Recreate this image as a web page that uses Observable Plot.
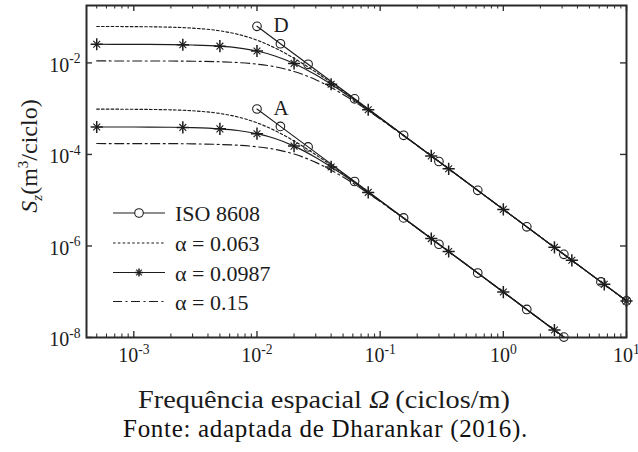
<!DOCTYPE html>
<html><head><meta charset="utf-8">
<script src="https://cdn.jsdelivr.net/npm/d3@7"></script>
<script src="https://cdn.jsdelivr.net/npm/@observablehq/plot@0.6"></script>
<style>
html,body{margin:0;padding:0;background:#fff;}
body{width:638px;font-family:"Liberation Serif","Times New Roman",serif;}
#caption{font-size:25px;letter-spacing:0.7px;line-height:26px;height:26px;text-align:center;padding-left:13px;color:#111;white-space:nowrap;}
</style></head><body>
<div id="chart"></div>
<div id="caption">Fonte: adaptada de Dharankar (2016).</div>
<script>
// ---- data ----
const omegaGrid = [0.0005, 0.001, 0.002, 0.003, 0.005, 0.007, 0.01, 0.014, 0.02, 0.03, 0.05, 0.08, 0.15, 0.3, 1, 3, 10];
// class D
const szD_a063  = [0.0625, 0.0620, 0.0603, 0.0575, 0.0502, 0.0421, 0.0314, 0.0212, 0.0126, 0.0063, 0.00242, 0.00097, 0.000279, 0.0000699, 0.0000063, 0.0000007, 0.000000063];
const szD_a0987 = [0.0255, 0.0254, 0.0251, 0.0246, 0.0232, 0.0213, 0.0182, 0.0142, 0.00974, 0.00549, 0.00229, 0.000948, 0.000277, 0.0000698, 0.0000063, 0.0000007, 0.000000063];
const szD_a015  = [0.01105, 0.0110, 0.01098, 0.01088, 0.01059, 0.01018, 0.0094, 0.00823, 0.0065, 0.00429, 0.00205, 0.000904, 0.000273, 0.0000696, 0.0000063, 0.0000007, 0.000000063];
// class A
const szA_a063  = [9.77e-4, 9.69e-4, 9.42e-4, 8.99e-4, 7.84e-4, 6.58e-4, 4.91e-4, 3.32e-4, 1.97e-4, 9.84e-5, 3.78e-5, 1.51e-5, 4.36e-6, 1.09e-6, 9.84e-8, 1.09e-8, 9.84e-10];
const szA_a0987 = [3.98e-4, 3.97e-4, 3.93e-4, 3.85e-4, 3.62e-4, 3.33e-4, 2.84e-4, 2.22e-4, 1.52e-4, 8.58e-5, 3.58e-5, 1.48e-5, 4.33e-6, 1.09e-6, 9.84e-8, 1.09e-8, 9.84e-10];
const szA_a015  = [1.73e-4, 1.72e-4, 1.72e-4, 1.70e-4, 1.65e-4, 1.59e-4, 1.47e-4, 1.29e-4, 1.02e-4, 6.70e-5, 3.21e-5, 1.41e-5, 4.27e-6, 1.09e-6, 9.84e-8, 1.09e-8, 9.84e-10];
// ISO 8608 (circles)
const isoOmegaD = [0.01, 0.0155, 0.026, 0.062, 0.155, 0.3, 0.62, 1.55, 3.1, 6.2, 10];
const isoSzD    = [0.063, 0.0262, 0.00932, 0.00164, 0.000262, 0.00007, 0.0000164, 0.00000262, 6.56e-7, 1.64e-7, 6.3e-8];
const isoOmegaA = [0.01, 0.0155, 0.026, 0.062, 0.155, 0.3, 0.62, 1.55, 3.1];
const isoSzA    = [9.84e-4, 4.10e-4, 1.46e-4, 2.56e-5, 4.10e-6, 1.09e-6, 2.56e-7, 4.10e-8, 1.02e-8];
// alpha = 0.0987 markers (stars)
const starOmegaD = [0.0005, 0.0025, 0.005, 0.01, 0.02, 0.04, 0.08, 0.26, 0.36, 1, 2.6, 3.6, 6.6, 10];
const starSzD    = [0.0255, 0.0249, 0.0232, 0.0182, 0.00974, 0.00341, 0.000948, 0.0000929, 0.0000485, 0.0000063, 9.32e-7, 4.86e-7, 1.45e-7, 6.3e-8];
const starOmegaA = [0.0005, 0.0025, 0.005, 0.01, 0.02, 0.04, 0.08, 0.26, 0.36, 1, 2.6];
const starSzA    = [3.98e-4, 3.89e-4, 3.62e-4, 2.84e-4, 1.52e-4, 5.33e-5, 1.48e-5, 1.45e-6, 7.58e-7, 9.84e-8, 1.46e-8];
// class labels
const classLabels = ["D", "A"];
// ticks
const xTickValues = [1e-3, 1e-2, 1e-1, 1, 10];
const xTickLabels = ["10^-3", "10^-2", "10^-1", "10^0", "10^1"];
const xMinorTicks = [5e-4,6e-4,7e-4,8e-4,9e-4, 2e-3,3e-3,4e-3,5e-3,6e-3,7e-3,8e-3,9e-3, 0.02,0.03,0.04,0.05,0.06,0.07,0.08,0.09, 0.2,0.3,0.4,0.5,0.6,0.7,0.8,0.9, 2,3,4,5,6,7,8,9];
const yTickValues = [1e-8, 1e-6, 1e-4, 1e-2];
const yTickLabels = ["10^-8", "10^-6", "10^-4", "10^-2"];
const legendLabels = ["ISO 8608", "α = 0.063", "α = 0.0987", "α = 0.15"];

// ---- build tables ----
const pts = (xs, ys) => xs.map((x, i) => ({x, y: ys[i]}));
const W = 638, H = 416, mL = 86, mR = 12, mT = 5, mB = 79;
const FW = W - mL - mR, FH = H - mT - mB;
const ink = "#1c1c1c";
const serif = '"Liberation Serif","Times New Roman",serif';

const lineOpts = {x: "x", y: "y", stroke: ink, strokeWidth: 1.15, curve: "monotone-x", clip: true};
const dotted = {strokeDasharray: "2.6,2.2"};
const dashdot = {strokeDasharray: "9,3.5,2,3.5"};

const isoD = pts(isoOmegaD, isoSzD), isoA = pts(isoOmegaA, isoSzA);
const starD = pts(starOmegaD, starSzD), starA = pts(starOmegaA, starSzA);
const classAnchors = [isoD[0], isoA[0]].map((p, i) => ({...p, label: classLabels[i]}));

const plot = Plot.plot({
  width: W, height: H,
  marginLeft: mL, marginRight: mR, marginTop: mT, marginBottom: mB,
  style: {fontFamily: serif, fontSize: "20px", background: "#fff", color: ink},
  x: {type: "log", domain: [4.13e-4, 10], axis: null},
  y: {type: "log", domain: [1e-8, 0.1795], axis: null},
  marks: [
    Plot.line(pts(omegaGrid, szD_a063), {...lineOpts, ...dotted}),
    Plot.line(pts(omegaGrid, szA_a063), {...lineOpts, ...dotted}),
    Plot.line(pts(omegaGrid, szD_a015), {...lineOpts, ...dashdot}),
    Plot.line(pts(omegaGrid, szA_a015), {...lineOpts, ...dashdot}),
    Plot.line(pts(omegaGrid, szD_a0987), lineOpts),
    Plot.line(pts(omegaGrid, szA_a0987), lineOpts),
    Plot.line(isoD, {...lineOpts, curve: "linear"}),
    Plot.line(isoA, {...lineOpts, curve: "linear"}),
    Plot.dot(isoD, {x: "x", y: "y", r: 4.3, stroke: ink, strokeWidth: 1.1, fill: "none"}),
    Plot.dot(isoA, {x: "x", y: "y", r: 4.3, stroke: ink, strokeWidth: 1.1, fill: "none"}),
    Plot.dot(starD, {x: "x", y: "y", symbol: "plus", r: 4, stroke: ink, strokeWidth: 1.5}),
    Plot.dot(starD, {x: "x", y: "y", symbol: "times", r: 3.2, stroke: ink, strokeWidth: 1.1}),
    Plot.dot(starA, {x: "x", y: "y", symbol: "plus", r: 4, stroke: ink, strokeWidth: 1.5}),
    Plot.dot(starA, {x: "x", y: "y", symbol: "times", r: 3.2, stroke: ink, strokeWidth: 1.1}),
    Plot.text(classAnchors, {x: "x", y: "y", text: "label", dx: 24, dy: -1, fontSize: 21, fill: ink}),
    Plot.tickX(xTickValues, {x: d => d, insetTop: FH - 6, stroke: "#333", strokeWidth: 1.4}),
    Plot.tickX(xTickValues, {x: d => d, insetBottom: FH - 6, stroke: "#333", strokeWidth: 1.4}),
    Plot.tickX(xMinorTicks, {x: d => d, insetTop: FH - 3.5, stroke: "#333", strokeWidth: 1.1}),
    Plot.tickX(xMinorTicks, {x: d => d, insetBottom: FH - 3.5, stroke: "#333", strokeWidth: 1.1}),
    Plot.tickY(yTickValues, {y: d => d, insetRight: FW - 6, stroke: "#333", strokeWidth: 1.4}),
    Plot.tickY(yTickValues, {y: d => d, insetLeft: FW - 6, stroke: "#333", strokeWidth: 1.4}),
    Plot.text(xTickValues, {x: d => d, frameAnchor: "bottom", text: (d, i) => xTickLabels[i], dy: 24.5, fontSize: 20, fill: ink}),
    Plot.text(yTickValues, {y: d => d, frameAnchor: "left", text: (d, i) => yTickLabels[i], textAnchor: "end", dx: -6, dy: 2.5, fontSize: 20, fill: ink}),
    Plot.frame({stroke: "#2a2a2a", strokeWidth: 2})
  ]
});
document.getElementById("chart").appendChild(plot);

// superscripts on tick labels
const svg = d3.select(plot);
svg.selectAll("text").each(function () {
  const s = this.textContent;
  if (!s.includes("^")) return;
  const t = d3.select(this);
  const [b, e] = s.split("^");
  t.selectAll("*").remove();
  t.text(null);
  t.append("tspan").text(b);
  t.append("tspan").attr("dy", "-0.62em").attr("font-size", "0.68em").text(e);
});

// axis titles
const xl = svg.append("text").attr("x", 324).attr("y", 408).attr("text-anchor", "middle")
  .attr("font-family", serif).attr("font-size", 26).attr("fill", ink)
  .attr("textLength", 372).attr("lengthAdjust", "spacingAndGlyphs");
xl.append("tspan").text("Frequência espacial ");
xl.append("tspan").attr("font-style", "italic").text("Ω");
xl.append("tspan").text("\u2009(ciclos/m)");

const yl = svg.append("text").attr("transform", "translate(37,156) rotate(-90)").attr("text-anchor", "middle")
  .attr("font-family", serif).attr("font-size", 24).attr("fill", ink);
yl.append("tspan").attr("font-style", "italic").text("S");
yl.append("tspan").attr("font-style", "italic").attr("font-size", 15).attr("dy", 5).text("z");
yl.append("tspan").attr("dy", -5).text("(m");
yl.append("tspan").attr("font-size", 15).attr("dy", -9).text("3");
yl.append("tspan").attr("dy", 9).text("/ciclo)");

// legend
const lg = svg.append("g").attr("font-family", serif).attr("font-size", 22).attr("fill", ink).attr("text-anchor", "start");
const legendY = [213, 243, 272.5, 301.5];
const legendDash = [null, "2.6,2.2", null, "9,3.5,2,3.5"];
legendLabels.forEach((lab, i) => {
  const y = legendY[i];
  lg.append("line").attr("x1", 113).attr("x2", 165).attr("y1", y).attr("y2", y)
    .attr("stroke", ink).attr("stroke-width", 1.15).attr("stroke-dasharray", legendDash[i]);
  if (i === 0) lg.append("circle").attr("cx", 139).attr("cy", y).attr("r", 4.3).attr("fill", "#fff").attr("stroke", ink).attr("stroke-width", 1.1);
  if (i === 2) {
    lg.append("path").attr("transform", `translate(139,${y})`).attr("d", "M-4,0H4M0,-4V4").attr("stroke", ink).attr("stroke-width", 1.5);
    lg.append("path").attr("transform", `translate(139,${y})`).attr("d", "M-2.8,-2.8L2.8,2.8M-2.8,2.8L2.8,-2.8").attr("stroke", ink).attr("stroke-width", 1.1);
  }
  lg.append("text").attr("x", 175).attr("y", y + 8).attr("text-anchor", "start").text(lab);
});
</script>
</body></html>
